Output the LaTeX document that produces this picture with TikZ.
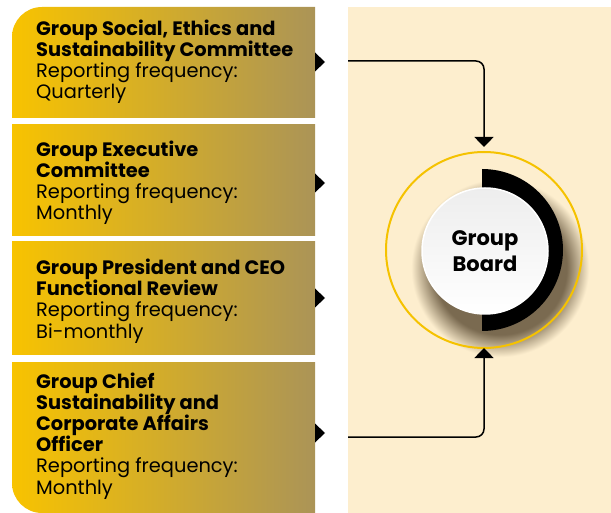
\documentclass[tikz,border=0pt]{standalone}
\usepackage{fontspec}
\setmainfont{Poppins}
\usetikzlibrary{arrows.meta}
\definecolor{panel}{HTML}{FDEECE}
\definecolor{gl}{HTML}{F8C300}
\definecolor{gr}{HTML}{AB9457}
\definecolor{ringc}{HTML}{F5C200}
\definecolor{shc}{HTML}{7A6A50}
\pgfdeclareradialshading{boardshadow}{\pgfpoint{0bp}{0bp}}{color(0bp)=(shc); color(18.5bp)=(shc); color(24.7bp)=(panel); color(50bp)=(panel)}
\tikzset{
 boxtxt/.style={anchor=base west, inner sep=0pt, align=left, font=\fontsize{19.4}{21.2}\selectfont},
 conn/.style={line width=1.5pt, rounded corners=8pt, -{Triangle[width=19pt,length=10pt]}},
 tri/.style={fill=black},
 boxfill/.style={left color=gl, right color=gr},
}
\begin{document}
\begin{tikzpicture}[x=1pt,y=-1pt]
\useasboundingbox (0,0) rectangle (611,513);
% panel
\fill[panel] (348,7) rectangle (611,513);
% boxes
\shade[boxfill] (12,118) -- (12,37) arc[start angle=180,end angle=270,radius=30] -- (315,7) -- (315,118) -- cycle;
\shade[boxfill] (12,125) rectangle (315,236);
\shade[boxfill] (12,242) rectangle (315,355);
\shade[boxfill] (12,362) -- (315,362) -- (315,513) -- (42,513) arc[start angle=90,end angle=180,radius=30] -- cycle;
% triangles
\fill[tri] (315,52.5) -- (325,62) -- (315,71.5) -- cycle;
\fill[tri] (315,173.5) -- (325,183) -- (315,192.5) -- cycle;
\fill[tri] (315,288.5) -- (325,298) -- (315,307.5) -- cycle;
\fill[tri] (315,423.5) -- (325,433) -- (315,442.5) -- cycle;
% texts (anchored at baseline of last line)
\node[boxtxt] (t1) at (36,99) {\textbf{Group Social, Ethics and}\\\textbf{Sustainability Committee}\\Reporting frequency:\\Quarterly};
\node[boxtxt] (t2) at (36,220) {\textbf{Group Executive}\\\textbf{Committee}\\Reporting frequency:\\Monthly};
\node[boxtxt] (t3) at (36,338) {\textbf{Group President and CEO}\\\textbf{Functional Review}\\Reporting frequency:\\Bi-monthly};
\node[boxtxt] (t4) at (36,494) {\textbf{Group Chief}\\\textbf{Sustainability and}\\\textbf{Corporate Affairs}\\\textbf{Officer}\\Reporting frequency:\\Monthly};
% board
\shade[shading=boardshadow] (500,268) circle (90);
\node[circle, draw=ringc, line width=2pt, minimum size=196pt, outer sep=0pt, inner sep=0pt] (ring) at (484,250) {};
\fill[black] (482,169) arc[start angle=-90,end angle=90,radius=81] -- cycle;
\node[circle, draw=white, line width=1.5pt, top color=gray!14, bottom color=white, minimum size=126pt, inner sep=0pt, align=center, font=\fontsize{21}{26}\selectfont\bfseries] (board) at (485,251) {Group\\Board};
% connectors
\coordinate (s1) at (348,61);
\coordinate (s4) at (348,437);
\draw[conn, shorten >=5pt] (s1) -| (ring.north);
\draw[conn] (s4) -| (ring.south);
\end{tikzpicture}
\end{document}
